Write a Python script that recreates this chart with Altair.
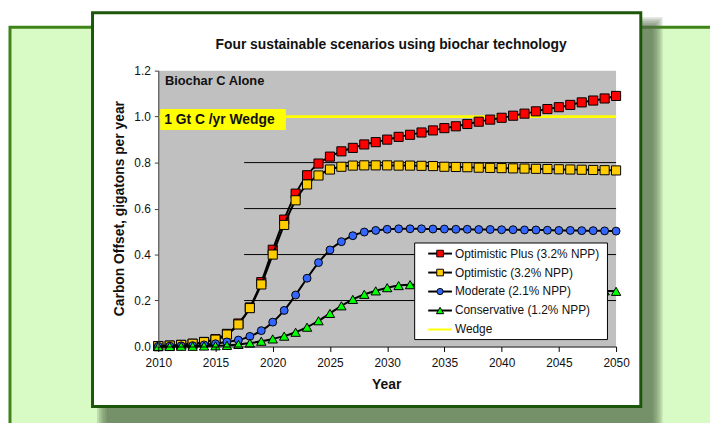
import altair as alt
import pandas as pd

# ---------------- data ----------------
years = list(range(2010, 2051))
optimistic_plus = [0.002, 0.004, 0.007, 0.012, 0.020, 0.032, 0.055, 0.100, 0.170, 0.280,
                   0.421, 0.552, 0.665, 0.745, 0.796, 0.826, 0.849, 0.864, 0.879, 0.889,
                   0.900, 0.912, 0.921, 0.931, 0.940, 0.950, 0.958, 0.968, 0.978, 0.987,
                   0.995, 1.004, 1.013, 1.023, 1.033, 1.041, 1.051, 1.062, 1.070, 1.079, 1.090]
optimistic = [0.002, 0.004, 0.007, 0.012, 0.019, 0.030, 0.052, 0.096, 0.167, 0.270,
              0.400, 0.529, 0.636, 0.705, 0.744, 0.770, 0.782, 0.787, 0.788, 0.788,
              0.788, 0.787, 0.787, 0.786, 0.785, 0.782, 0.781, 0.780, 0.778, 0.777,
              0.776, 0.775, 0.774, 0.773, 0.772, 0.771, 0.770, 0.769, 0.768, 0.767, 0.766]
moderate = [0.001, 0.002, 0.003, 0.004, 0.007, 0.012, 0.020, 0.028, 0.044, 0.069,
            0.106, 0.157, 0.224, 0.297, 0.365, 0.420, 0.456, 0.482, 0.498, 0.505,
            0.510, 0.512, 0.512, 0.512, 0.511, 0.511, 0.510, 0.510, 0.509, 0.509,
            0.508, 0.508, 0.507, 0.507, 0.506, 0.505, 0.505, 0.504, 0.504, 0.503, 0.502]
conservative = [0.000, 0.000, 0.001, 0.001, 0.002, 0.003, 0.005, 0.009, 0.015, 0.023,
                0.033, 0.045, 0.062, 0.084, 0.112, 0.144, 0.177, 0.205, 0.227, 0.242,
                0.256, 0.265, 0.269, 0.270, 0.270, 0.269, 0.268, 0.267, 0.265, 0.263,
                0.261, 0.259, 0.257, 0.255, 0.252, 0.250, 0.248, 0.246, 0.244, 0.242, 0.240]

series_names = ["Optimistic Plus (3.2% NPP)", "Optimistic (3.2% NPP)",
                "Moderate (2.1% NPP)", "Conservative (1.2% NPP)"]
series_values = [optimistic_plus, optimistic, moderate, conservative]
series_fill = ["#FF0000", "#FFCC00", "#3366FF", "#00FF00"]
series_shape = ["square", "square", "circle", "triangle-up"]
series_size = [85, 85, 64, 90]
legend_size = [45, 45, 40, 55]

wedge_name = "Wedge"
wedge_value = 1.0
wedge_years = [2010, 2050]
grid_values = [0.2, 0.4, 0.6, 0.8]
grid_start_year = 2017.5
grid_end_year = 2050
x_ticks = list(range(2010, 2051, 5))
y_ticks = [0.0, 0.2, 0.4, 0.6, 0.8, 1.0, 1.2]

title_text = "Four sustainable scenarios using biochar technology"
x_title = "Year"
y_title = "Carbon Offset, gigatons per year"
note_text = "Biochar C Alone"
wedge_label = "1 Gt C /yr Wedge"

# ---------------- style ----------------
FONT = "Liberation Sans"
W, H = 463, 279
TXT = "#111111"

xscale = alt.Scale(domain=[2010, 2050], nice=False, zero=False)
yscale = alt.Scale(domain=[0, 1.2], nice=False, zero=True)
xaxis = alt.Axis(values=x_ticks, format="d", title=None, grid=False,
                 domainColor="#000000", domainWidth=1, tickColor="#000000",
                 tickSize=5, labelPadding=6, labelFont=FONT, labelFontSize=12,
                 labelColor=TXT, labelFlush=False, labelOverlap=False, zindex=1)
yaxis = alt.Axis(values=y_ticks, format=".1f", title=None, grid=False,
                 domainColor="#404040", domainWidth=1, tickColor="#404040",
                 tickSize=4, labelPadding=4, labelFont=FONT, labelFontSize=12,
                 labelColor=TXT, labelFlush=False, labelOverlap=False, zindex=1)

one = pd.DataFrame({"k": [0]})


def rect(x, x2, y, y2, **kw):
    return alt.Chart(one).mark_rect(**kw).encode(
        x=alt.value(x), x2=alt.value(x2), y=alt.value(y), y2=alt.value(y2))


def text(t, x, y, **kw):
    base = dict(font=FONT, color=TXT)
    base.update(kw)
    return alt.Chart(one).mark_text(text=t, **base).encode(x=alt.value(x), y=alt.value(y))


layers = []

# outer green panel
layers.append(rect(-150, 600, -44, 400, fill="#D8FAC4", stroke="#3F8418", strokeWidth=3))
# soft shadow of the white box
for i in range(6):
    g = 2 * i
    layers.append(rect(-52 - g, 500 + g, -44 - g, 380 + g, fill="#55704A", opacity=0.2))
# white chart box
layers.append(rect(-66.5, 488, -58.5, 339.7, fill="#FFFFFF", stroke="#1C560A", strokeWidth=3))
# grey plot area
layers.append(rect(0, W, 0, H, fill="#C0C0C0"))

# partial grid lines
grid_df = pd.DataFrame({"y": grid_values,
                        "x0": [grid_start_year] * len(grid_values),
                        "x1": [grid_end_year] * len(grid_values)})
layers.append(alt.Chart(grid_df).mark_rule(color="#000000", strokeWidth=1).encode(
    x=alt.X("x0:Q", scale=xscale, axis=xaxis), x2="x1:Q",
    y=alt.Y("y:Q", scale=yscale, axis=yaxis)))

# wedge line
wedge_df = pd.DataFrame({"x0": [wedge_years[0]], "x1": [wedge_years[1]], "y": [wedge_value]})
layers.append(alt.Chart(wedge_df).mark_rule(color="#FFFF00", strokeWidth=3).encode(
    x=alt.X("x0:Q", scale=xscale, axis=xaxis), x2="x1:Q",
    y=alt.Y("y:Q", scale=yscale, axis=yaxis)))

# series
for name, vals, fill, shape, size in zip(series_names, series_values, series_fill,
                                         series_shape, series_size):
    df = pd.DataFrame({"year": years, "value": vals, "series": name})
    enc = dict(x=alt.X("year:Q", scale=xscale, axis=xaxis),
               y=alt.Y("value:Q", scale=yscale, axis=yaxis))
    layers.append(alt.Chart(df).mark_line(color="#000000", strokeWidth=2,
                                          interpolate="monotone").encode(**enc))
    layers.append(alt.Chart(df).mark_point(shape=shape, filled=True, fill=fill,
                                           stroke="#000000", strokeWidth=1, size=size,
                                           opacity=1).encode(**enc))

# labels inside the plot
layers.append(text(note_text, 6.7, 15, fontSize=13, fontWeight="bold",
                   align="left", baseline="alphabetic"))
layers.append(rect(2, 129, 38.7, 60, fill="#FFFF00"))
layers.append(text(wedge_label, 6, 54.3, fontSize=14, fontWeight="bold",
                   align="left", baseline="alphabetic"))

# titles
layers.append(text(title_text, 235.5, -22.3, fontSize=14, fontWeight="bold",
                   align="center", baseline="alphabetic"))
layers.append(text(x_title, 231, 321.7, fontSize=14, fontWeight="bold",
                   align="center", baseline="alphabetic"))
layers.append(text(y_title, -35, 139.5, fontSize=14, fontWeight="bold",
                   align="center", baseline="alphabetic", angle=270))

# legend
lx0, lx1, ly0, ly1 = 259.3, 454.3, 174.3, 272
layers.append(rect(lx0, lx1, ly0, ly1, fill="#FFFFFF", stroke="#000000", strokeWidth=1))
row_y = [185, 204.2, 223.4, 242.6, 261.8]
for i, (name, fill, shape, size) in enumerate(zip(series_names, series_fill,
                                                 series_shape, legend_size)):
    ry = row_y[i]
    layers.append(alt.Chart(one).mark_rule(color="#000000", strokeWidth=2).encode(
        x=alt.value(273), x2=alt.value(297), y=alt.value(ry)))
    layers.append(alt.Chart(one).mark_point(shape=shape, filled=True, fill=fill,
                                            stroke="#000000", strokeWidth=1, size=size,
                                            opacity=1).encode(x=alt.value(285), y=alt.value(ry)))
    layers.append(text(name, 300, ry, fontSize=12, align="left", baseline="middle"))
ry = row_y[4]
layers.append(alt.Chart(one).mark_rule(color="#FFFF00", strokeWidth=2).encode(
    x=alt.value(273), x2=alt.value(297), y=alt.value(ry)))
layers.append(text(wedge_name, 300, ry, fontSize=12, align="left", baseline="middle"))

chart = alt.layer(*layers).properties(
    width=W, height=H,
    padding={"left": 152, "top": 61, "right": 95, "bottom": 76},
    autosize=alt.AutoSizeParams(type="none"),
    background="#FFFFFF",
).configure_view(stroke=None)

chart.save("out.html", embed_options={"renderer": "svg", "actions": False})
